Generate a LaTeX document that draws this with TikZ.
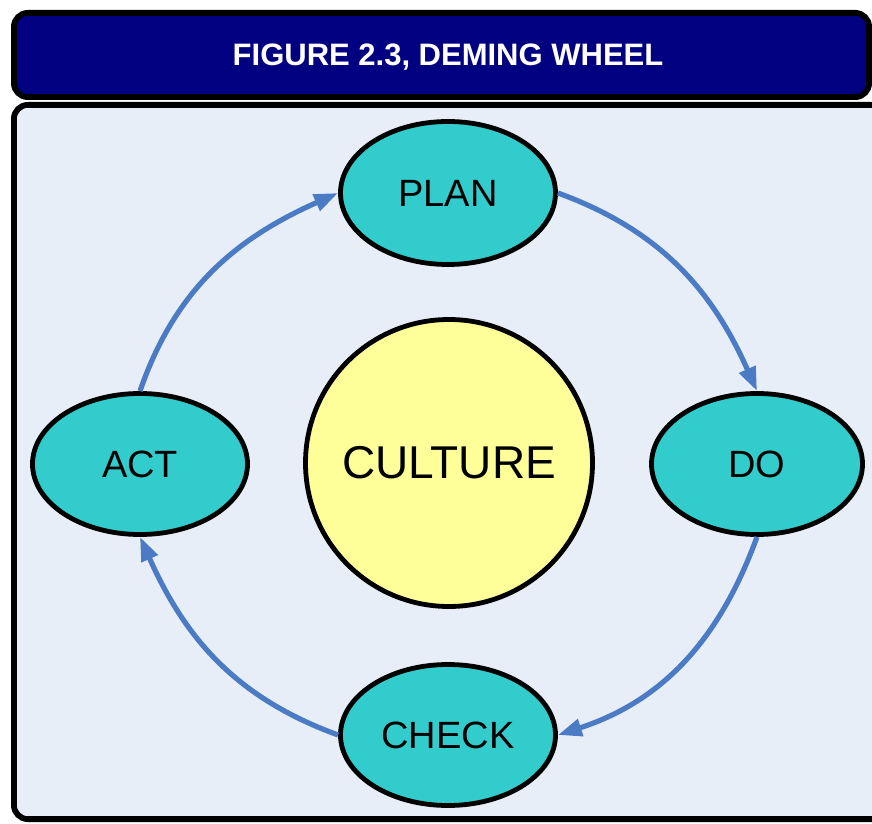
\documentclass[tikz,border=0pt]{standalone}
\usepackage{fontspec}
\setmainfont{Liberation Sans}
\usetikzlibrary{shapes.geometric,arrows.meta}
\definecolor{navyhead}{HTML}{000080}
\definecolor{bodybg}{HTML}{E8EEF8}
\definecolor{tealfill}{HTML}{33CCCC}
\definecolor{yellowfill}{HTML}{FFFF99}
\definecolor{arrowblue}{HTML}{4A7BC4}
\tikzset{
  stagebox/.style={ellipse, draw=black, line width=4.8pt, fill=tealfill, inner sep=0pt,
    minimum width=215pt, minimum height=141pt, font=\fontsize{38}{40}\selectfont},
  culturebox/.style={circle, draw=black, line width=4.8pt, fill=yellowfill, inner sep=0pt,
    minimum size=287pt, font=\fontsize{46}{48}\selectfont},
  cyclearrow/.style={draw=arrowblue, line width=5.2pt, -{Triangle[length=24pt,width=17pt]}},
  framebox/.style={draw=black, line width=5.8pt, rounded corners=14pt}
}
\begin{document}
\begin{tikzpicture}[x=1pt,y=1pt]
\useasboundingbox (0,0) rectangle (872,823);
% header and body frames
\path[framebox, fill=navyhead] (13.9,725.9) rectangle (869.1,810.1);
\path[framebox, fill=bodybg] (13.9,3.9) rectangle (885,718.1);
\node[anchor=base, text=white, font=\fontsize{31}{34}\selectfont\bfseries] (title) at (448,757) {FIGURE 2.3, DEMING WHEEL};
% nodes
\node[stagebox, minimum height=143pt] (plan) at (448,630) {PLAN};
\node[stagebox, minimum width=211pt] (do) at (757,359) {DO};
\node[stagebox] (act) at (140,359) {ACT};
\node[stagebox] (check) at (448,88) {CHECK};
\node[culturebox] (culture) at (449,360) {CULTURE};
% connectors
\draw[cyclearrow] (plan.east) to[out=-20, in=114] (do.north);
\draw[cyclearrow] (do.south) to[out=-110, in=18] (check.east);
\draw[cyclearrow] (check.west) to[out=160, in=-66] (act.south);
\draw[cyclearrow] (act.north) to[out=71, in=204] (plan.west);
\end{tikzpicture}
\end{document}
